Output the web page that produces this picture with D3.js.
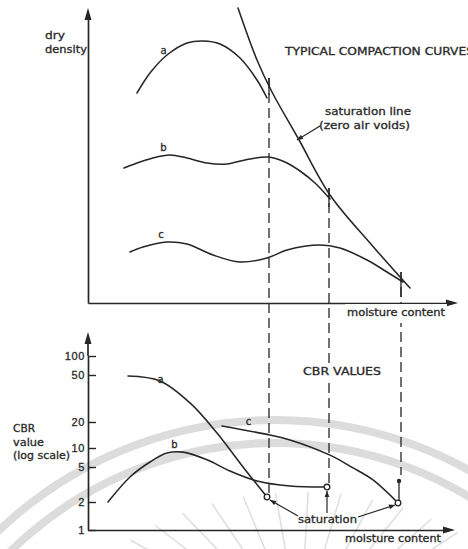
<!DOCTYPE html>
<html><head><meta charset="utf-8">
<script src="https://cdn.jsdelivr.net/npm/d3@7"></script>
<style>
html,body{margin:0;padding:0;background:#fff;}
svg{display:block;font-family:"DejaVu Sans",sans-serif;}
</style></head><body>
<svg id="c" width="468" height="549"></svg>
<script>
// ---------- DATA (moisture content in arbitrary units, dry density arbitrary units, CBR on log scale) ----------
const satMoist = [15.0, 16.9, 18.4, 21.0, 24.2, 28.2, 32.2];
const satDens  = [29.5, 24.3, 21.1, 16.5, 10.8, 6.0, 1.5];

const aMoist = [4.9, 6.2, 7.9, 9.9, 11.5, 13.2, 15.2, 16.9, 17.9];
const aDens  = [21.0, 23.0, 24.8, 26.0, 26.2, 25.9, 24.5, 22.3, 20.5];
const bMoist = [3.6, 5.2, 6.9, 8.2, 9.9, 11.9, 13.9, 15.7, 18.0, 19.7, 21.2, 22.7, 24.2];
const bDens  = [13.5, 14.1, 14.6, 14.8, 14.5, 14.0, 13.9, 14.3, 14.6, 14.1, 13.2, 12.0, 10.4];
const cMoist = [4.2, 5.5, 7.9, 9.9, 12.5, 15.2, 17.9, 19.9, 23.2, 25.2, 27.9, 29.9, 31.5];
const cDens  = [5.1, 5.6, 6.1, 5.9, 4.8, 4.1, 4.5, 5.3, 5.8, 5.5, 4.3, 3.1, 2.1];

const aCbrMoist = [4.0, 7.2, 10.2, 12.9, 15.5, 17.9];
const aCbr      = [49, 44.5, 29, 14.9, 5.0, 2.28];
const bCbrMoist = [2.0, 4.2, 6.2, 7.9, 9.5, 11.9, 14.2, 16.9, 20.2, 23.9];
const bCbr      = [2.0, 3.85, 6.0, 8.3, 8.6, 6.5, 4.5, 3.47, 3.04, 2.96];
const cCbrMoist = [13.4, 18.2, 20.2, 24.2, 26.5, 28.5, 31.0];
const cCbr      = [18.0, 14.1, 12.4, 7.7, 4.88, 3.56, 1.95];

// saturation points (open circles) on CBR chart
const satPtMoist = [17.9, 23.9, 31.0];
const satPtCbr   = [2.28, 2.96, 1.95];

// vertical dashed projection lines
const projMoist   = [18.1, 24.1, 31.3];
const projTopDens = [22.5, 11.5, 3.1];
const projTickEnd = [20.8, 9.6, 0.6];
const projEndCbr  = [2.53, 3.2, 4.06];

const cbrTicks = [1, 2, 5, 10, 20, 50, 100];
const cbrTickPos = [530, 502, 467, 448, 422, 375, 356];

// ---------- SCALES ----------
const svg = d3.select("#c");
const ink = "#262626";
const xM = d3.scaleLinear().domain([0, 37]).range([88, 458]);
const yD = d3.scaleLinear().domain([0, 29.5]).range([303, 8]);
const yC = d3.scaleLog().domain(cbrTicks).range(cbrTickPos);

// ---------- watermark (decorative background) ----------
const wm = svg.append("g").attr("fill","none");
[400, 377].forEach(r=>{
  wm.append("path")
    .attr("d", d3.arc()({innerRadius:r-4, outerRadius:r+4, startAngle:-Math.PI/2.2, endAngle:Math.PI/2.2}))
    .attr("transform","translate(275,820)").attr("fill","#dcdcdc");
});
d3.range(200, 345, 8).forEach(a=>{
  const t = a*Math.PI/180;
  wm.append("line")
    .attr("x1", 300+130*Math.cos(t)).attr("y1", 650+95*Math.sin(t))
    .attr("x2", 300+235*Math.cos(t)).attr("y2", 650+158*Math.sin(t))
    .attr("stroke","#dedede").attr("stroke-width",1.5);
});

// ---------- markers ----------
const defs = svg.append("defs");
defs.append("marker").attr("id","ah").attr("viewBox","0 0 10 10")
  .attr("refX",10).attr("refY",5).attr("markerWidth",7).attr("markerHeight",6)
  .attr("markerUnits","userSpaceOnUse").attr("orient","auto")
  .append("path").attr("d","M0,1L10,5L0,9Z").attr("fill",ink);

// ---------- AXES ----------
function axisStyle(g){
  g.select(".domain").attr("stroke",ink).attr("stroke-width",1.7);
  g.selectAll(".tick line").attr("stroke",ink).attr("stroke-width",1.4);
  g.selectAll(".tick text").attr("fill","#2a2a2a").attr("font-size",11).attr("letter-spacing",0.6)
    .attr("stroke","#2a2a2a").attr("stroke-width",0.3);
}
// top chart
svg.append("g").attr("transform","translate(0,303)")
  .call(d3.axisBottom(xM.copy().range([88, 450])).tickValues([]).tickSizeOuter(0)).call(axisStyle);
svg.append("g").attr("transform","translate(88,0)")
  .call(d3.axisLeft(yD.copy().range([303, 18])).tickValues([]).tickSizeOuter(0)).call(axisStyle);
// bottom chart
svg.append("g").attr("transform","translate(0,530)")
  .call(d3.axisBottom(xM.copy().range([88, 447])).tickValues([]).tickSizeOuter(0)).call(axisStyle);
svg.append("g").attr("transform","translate(88,0)")
  .call(d3.axisLeft(yC).tickValues(cbrTicks).tickFormat(d3.format("d"))
        .tickSizeInner(-8).tickSizeOuter(0).tickPadding(3)).call(axisStyle);
svg.append("line").attr("x1",88).attr("x2",88).attr("y1",yC(100)).attr("y2",340)
  .attr("stroke",ink).attr("stroke-width",1.7);

// arrowheads of axes
const arrows = [
  `M88,8L84.5,20L91.5,20Z`,
  `M458,303L446,299.5L446,306.5Z`,
  `M88,332L84.5,344L91.5,344Z`,
  `M455,530L443,526.5L443,533.5Z`
];
arrows.forEach(d=>svg.append("path").attr("d",d).attr("fill",ink));

// ---------- projection dashed lines ----------
projMoist.forEach((m,i)=>{
  svg.append("line").attr("x1",xM(m)).attr("x2",xM(m))
    .attr("y1",yD(projTopDens[i])).attr("y2",yC(projEndCbr[i]))
    .attr("stroke",ink).attr("stroke-width",1.3).attr("stroke-dasharray","10,5");
  svg.append("line").attr("x1",xM(m)).attr("x2",xM(m))
    .attr("y1",yD(projTopDens[i])).attr("y2",yD(projTickEnd[i]))
    .attr("stroke",ink).attr("stroke-width",1.3);
});

// ---------- curves ----------
const curve = d3.curveCatmullRom.alpha(0.5);
const lineTop = d3.line().x(d=>xM(d[0])).y(d=>yD(d[1])).curve(curve);
const lineBot = d3.line().x(d=>xM(d[0])).y(d=>yC(d[1])).curve(curve);
const pathStyle = p => p.attr("fill","none").attr("stroke",ink).attr("stroke-width",1.55).attr("stroke-linecap","round");

svg.append("path").attr("d",lineTop(d3.zip(satMoist,satDens))).call(pathStyle);
svg.append("path").attr("d",lineTop(d3.zip(aMoist,aDens))).call(pathStyle);
svg.append("path").attr("d",lineTop(d3.zip(bMoist,bDens))).call(pathStyle);
svg.append("path").attr("d",lineTop(d3.zip(cMoist,cDens))).call(pathStyle);

svg.append("path").attr("d",lineBot(d3.zip(aCbrMoist,aCbr))).call(pathStyle);
svg.append("path").attr("d",lineBot(d3.zip(bCbrMoist,bCbr))).call(pathStyle);
svg.append("path").attr("d",lineBot(d3.zip(cCbrMoist,cCbr))).call(pathStyle);

// dot + stem above third saturation point
svg.append("line").attr("x1",xM(31.1)).attr("x2",xM(31.1))
  .attr("y1",yC(3.47)).attr("y2",yC(satPtCbr[2])-3).attr("stroke",ink).attr("stroke-width",1.3);
svg.append("circle").attr("cx",xM(31.1)).attr("cy",yC(3.47)).attr("r",2.2).attr("fill",ink);

// leaders
const c0 = [xM(satPtMoist[0]), yC(satPtCbr[0])];
const c1 = [xM(satPtMoist[1]), yC(satPtCbr[1])];
const c2 = [xM(satPtMoist[2]), yC(satPtCbr[2])];
const leaders = [
  [[320,126],[297,140]],
  [[298,516],[c0[0]+3,c0[1]+3]],
  [[c1[0],513],[c1[0],c1[1]+4]],
  [[358,517],[c2[0]-3,c2[1]+2]]
];
leaders.forEach(l=>svg.append("line")
  .attr("x1",l[0][0]).attr("y1",l[0][1]).attr("x2",l[1][0]).attr("y2",l[1][1])
  .attr("stroke",ink).attr("stroke-width",1.2).attr("marker-end","url(#ah)"));

// open circles
svg.selectAll("circle.sat").data(d3.zip(satPtMoist,satPtCbr)).join("circle")
  .attr("class","sat").attr("cx",d=>xM(d[0])).attr("cy",d=>yC(d[1])).attr("r",2.8)
  .attr("fill","#fff").attr("stroke",ink).attr("stroke-width",1.3);

// ---------- TEXT ----------
// [text, x, baseline, width, knockout background]
const texts = [
  ["dry",45,39,20,false],["density",45,53,42,false],
  ["TYPICAL COMPACTION CURVES",285,55,189,false],
  ["saturation line",325,115,86,false],["(zero air voids)",319,129,91,false],
  ["moisture content",347,316,98,true],
  ["CBR VALUES",303,375,78,true],
  ["CBR",13,432,22,false],["value",13,446,31,false],["(log scale)",13,458.5,57,false],
  ["saturation",298,523,59,false],
  ["moisture content",345,542,96,false]
];
texts.forEach(t=>{
  if (t[4]) {
    svg.append("rect").attr("x",t[1]-2).attr("y",t[2]-12).attr("width",t[3]+4).attr("height",19).attr("fill","#fff");
  }
  svg.append("text").text(t[0]).attr("x",t[1]).attr("y",t[2])
    .attr("font-size",10).attr("fill","#2a2a2a").attr("stroke","#2a2a2a").attr("stroke-width",0.3)
    .attr("textLength",t[3]).attr("lengthAdjust","spacingAndGlyphs");
});

const curveLabels = [["a",163.5,54],["b",163.5,151],["c",161,238],["a",160.5,383],["b",174.5,448],["c",248.5,425]];
curveLabels.forEach(t=>svg.append("text").text(t[0]).attr("x",t[1]).attr("y",t[2])
  .attr("text-anchor","middle").attr("font-size",10).attr("fill","#2a2a2a")
  .attr("stroke","#2a2a2a").attr("stroke-width",0.3));
</script>
</body></html>
